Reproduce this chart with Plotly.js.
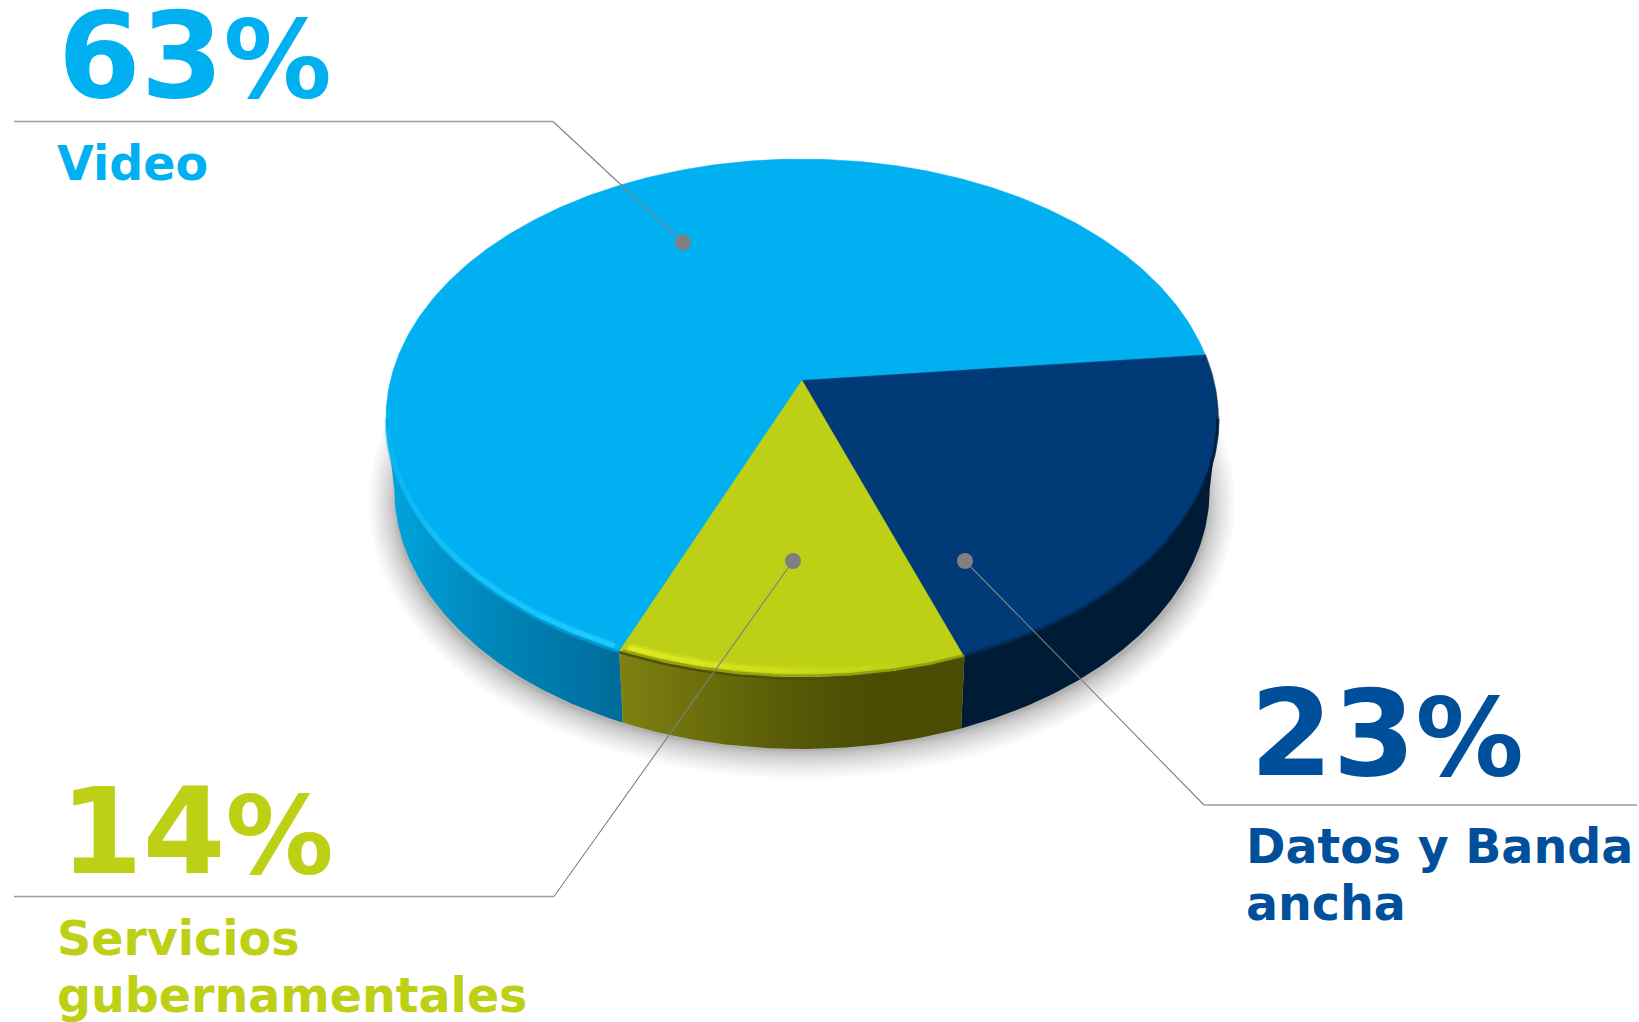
<!DOCTYPE html>
<html><head><meta charset="utf-8">
<script src="https://cdn.plot.ly/plotly-3.0.1.min.js"></script>
<style>html,body{margin:0;padding:0;background:#fff}#c{width:1639px;height:1022px}</style>
</head><body><div id="c"></div>
<script>
// ---- values ----
const categories = ["Video", "Datos y Banda ancha", "Servicios gubernamentales"];
const labelPercents = [63, 23, 14];                     // printed labels
const drawnWedgeShares = [67.1, 21.1, 11.8];            // wedge sizes as actually drawn in the picture
const labelLines = [["Video"], ["Datos y Banda", "ancha"], ["Servicios", "gubernamentales"]];
const topColors = ["#00B0F0", "#003B78", "#BDD015"];
const textColors = ["#00B0F0", "#004F9B", "#BDD015"];

// ---- projection of the tilted disc into plot coordinates ----
const apex = {x: 802, y: 380.5}, A = 411.5, B = 253.9, K = 0.1465;
const depth = 71, baseScale = 0.98, startDeg = 5.85, widestDeg = -8.4;
const rad = d => d * Math.PI / 180;
function proj(r, deg, isBase) {
  const u = r * Math.cos(rad(deg)), v = r * Math.sin(rad(deg)), w = 1 + K * v;
  const s = isBase ? baseScale : 1;
  return [apex.x + s * A * u / w, apex.y - B * v / w + (isBase ? depth : 0)];
}
function arc(r, d0, d1, isBase, lift) {
  const n = Math.max(2, Math.ceil(Math.abs(d1 - d0) * 1.5)), xs = [], ys = [];
  for (let i = 0; i <= n; i++) { const p = proj(r, d0 + (d1 - d0) * i / n, isBase); xs.push(p[0]); ys.push(p[1] - (lift || 0)); }
  return [xs, ys];
}
const sDatos = startDeg, eDatos = sDatos - drawnWedgeShares[1] * 3.6;
const eServ = eDatos - drawnWedgeShares[2] * 3.6;
const eVideo = eServ - drawnWedgeShares[0] * 3.6;
const wedgeRange = [[eServ, eVideo], [sDatos, eDatos], [eDatos, eServ]];
const leftWidest = -180 - widestDeg;

const traces = [];
const base = {mode: "lines", hoverinfo: "skip", showlegend: false};

// soft drop shadow: stacked translucent ellipses, spaced wider towards the outside
const shadowLayers = 26;
for (let i = 0; i < shadowLayers; i++) {
  const t = i / (shadowLayers - 1), e = Math.pow(1 - t, 1.5);
  const hw = 406 + e * 28, hh = 248 + e * 28, cx = 802, cy = 503, xs = [], ys = [];
  for (let d = 0; d <= 360; d += 2) { xs.push(cx + hw * Math.cos(rad(d))); ys.push(cy + hh * Math.sin(rad(d))); }
  traces.push({...base, x: xs, y: ys, fill: "toself", fillcolor: "rgba(0,0,0,0.01)", line: {width: 0}});
}

// side walls
function wall(d0, d1, extra) {
  const t = arc(1, d0, d1, false), b = arc(1, d0, d1, true);
  return {...base, x: t[0].concat(b[0].slice().reverse()), y: t[1].concat(b[1].slice().reverse()),
          fill: "toself", line: {width: 0}, ...extra};
}
traces.push(wall(eServ, leftWidest, {fillgradient: {type: "horizontal", start: 392, stop: 625,
  colorscale: [[0, "#00A4DE"], [0.35, "#008BBF"], [1, "#006A99"]]}}));
traces.push(wall(widestDeg, eDatos, {fillcolor: "#001B36"}));
traces.push(wall(eDatos, eServ, {fillgradient: {type: "horizontal", start: 622, stop: 963,
  colorscale: [[0, "#7E8110"], [0.5, "#565906"], [0.75, "#4A4C04"], [1, "#4A4C04"]]}}));

// top faces
[0, 1, 2].forEach(i => {
  const [d0, d1] = wedgeRange[i], a = arc(1, d0, d1, false);
  traces.push({...base, x: [apex.x].concat(a[0], [apex.x]), y: [apex.y].concat(a[1], [apex.y]),
    fill: "toself", fillcolor: topColors[i], line: {width: 0.6, color: topColors[i]}});
});

// bevel on the rim: the edge lifted a few pixels, faded along its length
function band(lift, d0, d1, rgb, width, a0, a1) {
  const steps = a0 === a1 ? 1 : 10;
  for (let i = 0; i < steps; i++) {
    const p = d0 + (d1 - d0) * i / steps, q = d0 + (d1 - d0) * (i + 1) / steps;
    const alpha = a0 + (a1 - a0) * (i + 0.5) / steps, a = arc(1, p, q, false, lift);
    traces.push({...base, x: a[0], y: a[1], line: {color: "rgba(" + rgb + "," + alpha.toFixed(2) + ")", width}});
  }
}
const glintStart = eServ + 1.2;
band(-0.3, leftWidest, eServ, "0,150,205", 3, 0.2, 0.85);
band(8, leftWidest + 6, eServ - 1, "20,185,245", 3, 0, 0.5);
band(4.5, leftWidest + 3, eServ - 0.6, "28,203,255", 5, 0.2, 1);
band(0.8, sDatos, widestDeg, "0,27,54", 1.5, 0.25, 0.6);
band(0, widestDeg, eDatos, "0,27,54", 3, 0.85, 0.85);
band(2.8, widestDeg, eDatos, "0,27,54", 3, 0.35, 0.35);
band(10.5, glintStart + 0.4, eServ + (eDatos - eServ) * 0.7, "215,226,30", 3, 0.6, 0);
band(7, glintStart, eServ + (eDatos - eServ) * 0.8, "224,234,34", 5, 1, 0.1);
band(2.2, eDatos, eServ + 0.5, "135,145,12", 2.5, 0.75, 0.75);
band(-0.4, eDatos, eServ, "75,78,6", 2.5, 0.95, 0.95);

// leader lines + dots
const leaders = [
  {x: [14, 553], y: [121.5, 121.5]}, {x: [553, 683], y: [121.5, 242.5]},
  {x: [1204, 1637], y: [805, 805]}, {x: [1204, 965], y: [805, 561]},
  {x: [14, 554], y: [896.5, 896.5]}, {x: [554, 793], y: [896.5, 561]}
];
leaders.forEach((l, i) => traces.push({...base, x: l.x, y: l.y,
  line: {color: i % 2 ? "#808080" : "#9C9C9C", width: i % 2 ? 1.1 : 1.5}}));
traces.push({x: [683, 965, 793], y: [242.5, 561, 561], mode: "markers", hoverinfo: "skip", showlegend: false,
  marker: {color: "#808080", size: 16, line: {width: 0}}});

// texts: y is the bottom of the text box, shift moves it further down
const numberPos = [[57, 126, 0], [1249, 804, 0], [59, 902, 0]];
const linePos = [[[56, 192, 0]], [[1245, 875, 0], [1245, 932, 0]], [[56, 967, 0], [56, 1015, 9]]];
const annotations = [];
const fam = "DejaVu Sans";
const note = (text, p, size, color) => ({text, x: p[0], y: p[1], yshift: -p[2], xref: "x", yref: "y", xanchor: "left", yanchor: "bottom",
  showarrow: false, align: "left", borderpad: 0, font: {family: fam, size, color, weight: 700}});
categories.forEach((c, i) => {
  annotations.push(note(labelPercents[i] + "<span style='font-size:108px'>%</span>", numberPos[i], 119, textColors[i]));
  labelLines[i].forEach((t, j) => annotations.push(note(t, linePos[i][j], 47.5, textColors[i])));
});

const axis = {visible: false, fixedrange: true, showgrid: false, zeroline: false};
Plotly.newPlot("c", traces, {
  width: 1639, height: 1022, margin: {l: 0, r: 0, t: 0, b: 0},
  paper_bgcolor: "#fff", plot_bgcolor: "#fff", showlegend: false,
  xaxis: {...axis, range: [0, 1639]}, yaxis: {...axis, range: [1022, 0]},
  annotations
}, {displayModeBar: false, staticPlot: true});
</script></body></html>
